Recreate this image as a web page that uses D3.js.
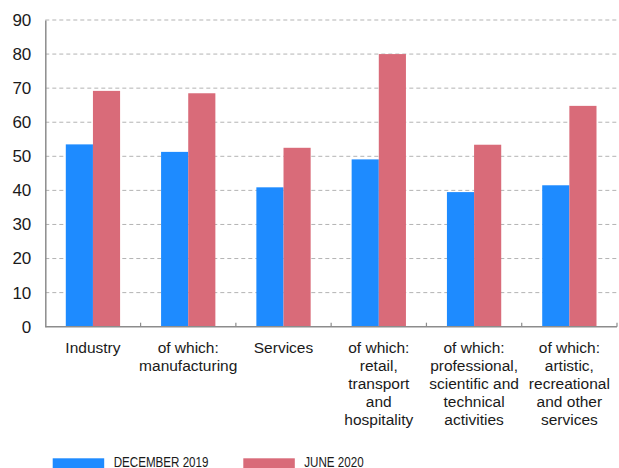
<!DOCTYPE html>
<html>
<head>
<meta charset="utf-8">
<script src="https://cdn.jsdelivr.net/npm/d3@7"></script>
<style>
  html, body { margin: 0; padding: 0; background: #fff; }
  svg { display: block; }
  text { font-family: "Liberation Sans", Arial, Helvetica, sans-serif; fill: #1a1a1a; }
</style>
</head>
<body>
<svg id="chart" width="619" height="468"></svg>
<script>
// Sector groups (each label split into its printed lines)
const categories = [
  ["Industry"],
  ["of which:", "manufacturing"],
  ["Services"],
  ["of which:", "retail,", "transport", "and", "hospitality"],
  ["of which:", "professional,", "scientific and", "technical", "activities"],
  ["of which:", "artistic,", "recreational", "and other", "services"]
];
const seriesNames = ["DECEMBER 2019", "JUNE 2020"];
const dec2019 = [53.5, 51.3, 40.9, 49.1, 39.5, 41.5];
const jun2020 = [69.2, 68.5, 52.5, 80.0, 53.4, 64.8];
const yTicks = [0, 10, 20, 30, 40, 50, 60, 70, 80, 90];
const colors = ["#1e8bff", "#d96b79"];

const svg = d3.select("#chart");
const plotLeft = 45.3, plotRight = 617, plotTop = 20, plotBottom = 326.7;

const keys = categories.map((c, i) => "c" + i);
const x = d3.scaleBand().domain(keys).range([plotLeft, plotRight]).padding(0);
const xs = d3.scaleBand().domain(seriesNames).range([0, x.bandwidth()])
  .paddingInner(0).paddingOuter(0.755);
const y = d3.scaleLinear().domain([0, 90]).range([plotBottom, plotTop]);

// dashed horizontal grid
svg.append("g")
  .selectAll("line")
  .data(yTicks.filter(t => t > 0))
  .join("line")
  .attr("x1", plotLeft).attr("x2", plotRight)
  .attr("y1", d => y(d)).attr("y2", d => y(d))
  .attr("stroke", "#b3b3b3")
  .attr("stroke-width", 1)
  .attr("stroke-dasharray", "4,3");

// bars
const rows = keys.map((k, i) => ({ key: k, vals: [dec2019[i], jun2020[i]] }));
const groups = svg.append("g").selectAll("g")
  .data(rows)
  .join("g")
  .attr("transform", d => `translate(${x(d.key)},0)`);
groups.selectAll("rect")
  .data(d => d.vals.map((v, j) => ({ s: seriesNames[j], v, j })))
  .join("rect")
  .attr("x", d => xs(d.s))
  .attr("width", xs.bandwidth())
  .attr("y", d => y(d.v))
  .attr("height", d => y(0) - y(d.v))
  .attr("fill", d => colors[d.j]);

// y axis
const yAxis = d3.axisLeft(y).tickValues(yTicks).tickSize(0).tickPadding(14);
const yg = svg.append("g").attr("transform", `translate(${plotLeft},0)`).call(yAxis);
yg.select(".domain").attr("stroke", "#8c8c8c").attr("stroke-width", 1.5);
yg.selectAll("text")
  .attr("font-size", 17)
  .attr("font-family", '"Liberation Sans", Arial, sans-serif')
  .attr("fill", "#1a1a1a");

// x axis baseline with small upward ticks at group boundaries
const xg = svg.append("g");
xg.append("line")
  .attr("x1", plotLeft).attr("x2", plotRight)
  .attr("y1", plotBottom).attr("y2", plotBottom)
  .attr("stroke", "#8c8c8c").attr("stroke-width", 1.5);
xg.selectAll("line.tick")
  .data(keys.slice(1).map(k => x(k)).concat([plotRight]))
  .join("line")
  .attr("class", "tick")
  .attr("x1", d => d).attr("x2", d => d)
  .attr("y1", plotBottom).attr("y2", plotBottom - 4)
  .attr("stroke", "#8c8c8c").attr("stroke-width", 1.2);

// category labels
const lab = svg.append("g").selectAll("text")
  .data(rows.map((r, i) => ({ key: r.key, lines: categories[i] })))
  .join("text")
  .attr("text-anchor", "middle")
  .attr("font-size", 15.5)
  .attr("x", d => x(d.key) + x.bandwidth() / 2)
  .attr("y", 352.5);
lab.selectAll("tspan")
  .data(d => d.lines.map(l => ({ l, cx: x(d.key) + x.bandwidth() / 2 })))
  .join("tspan")
  .attr("x", d => d.cx)
  .attr("dy", (d, i) => i === 0 ? 0 : 18)
  .text(d => d.l);

// legend (condensed caption: regular face squeezed horizontally)
const legendX = [52.7, 243.3];
const lg = svg.append("g").selectAll("g")
  .data(seriesNames)
  .join("g")
  .attr("transform", (d, i) => `translate(${legendX[i]},458.3)`);
lg.append("rect")
  .attr("width", 51.5).attr("height", 12)
  .attr("fill", (d, i) => colors[i]);
lg.append("text")
  .attr("transform", "translate(61,8.2) scale(0.8,1)")
  .attr("font-size", 14.5)
  .attr("fill", "#1a1a1a")
  .text(d => d);
</script>
</body>
</html>
